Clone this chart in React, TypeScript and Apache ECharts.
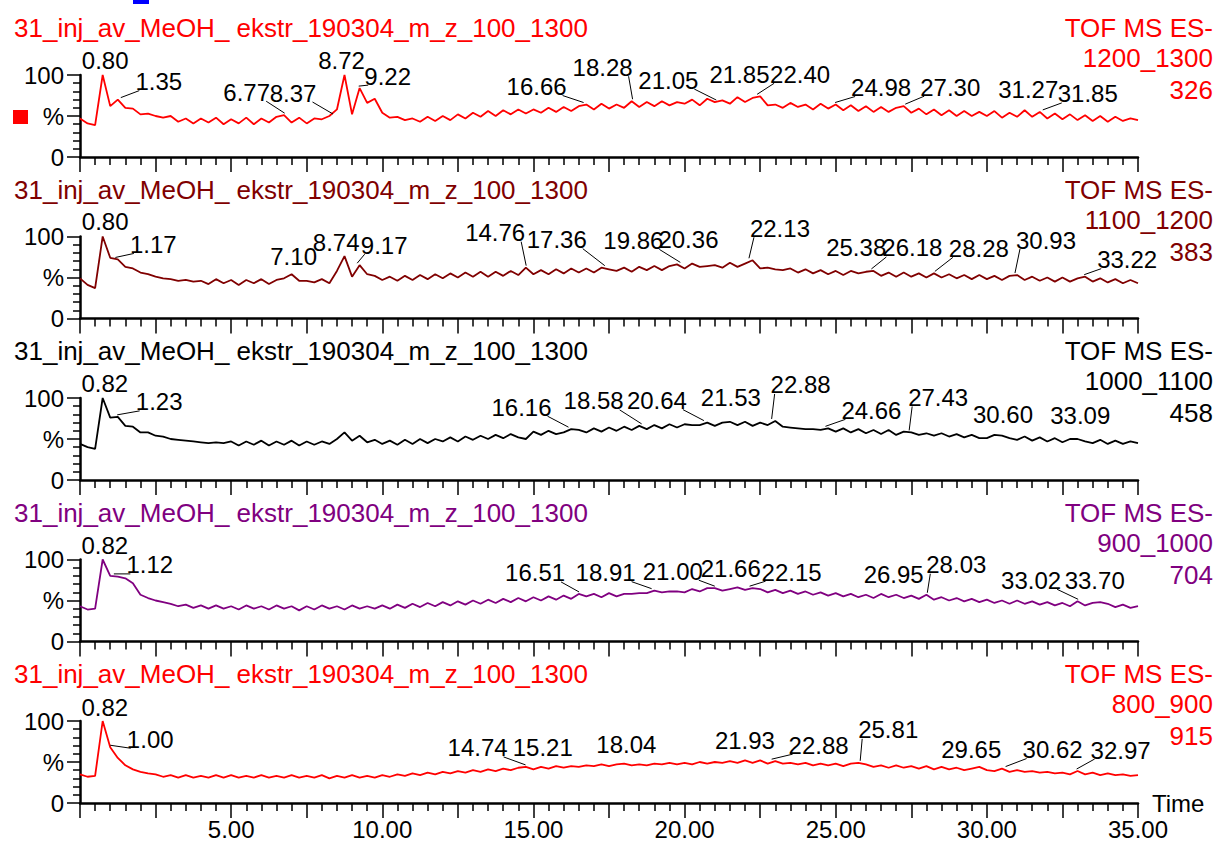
import React, { useEffect, useRef } from "react";
import * as echarts from "echarts";

const TIMES = [
  0, 0.25, 0.5, 0.75, 1, 1.25, 1.5, 1.75, 2, 2.25, 2.5, 2.75, 3, 3.25, 3.5, 3.75, 4, 4.25, 4.5, 4.75,
  5, 5.25, 5.5, 5.75, 6, 6.25, 6.5, 6.75, 7, 7.25, 7.5, 7.75, 8, 8.25, 8.5, 8.75, 9, 9.25, 9.5, 9.75,
  10, 10.25, 10.5, 10.75, 11, 11.25, 11.5, 11.75, 12, 12.25, 12.5, 12.75, 13, 13.25, 13.5, 13.75, 14, 14.25, 14.5, 14.75,
  15, 15.25, 15.5, 15.75, 16, 16.25, 16.5, 16.75, 17, 17.25, 17.5, 17.75, 18, 18.25, 18.5, 18.75, 19, 19.25, 19.5, 19.75,
  20, 20.25, 20.5, 20.75, 21, 21.25, 21.5, 21.75, 22, 22.25, 22.5, 22.75, 23, 23.25, 23.5, 23.75, 24, 24.25, 24.5, 24.75,
  25, 25.25, 25.5, 25.75, 26, 26.25, 26.5, 26.75, 27, 27.25, 27.5, 27.75, 28, 28.25, 28.5, 28.75, 29, 29.25, 29.5, 29.75,
  30, 30.25, 30.5, 30.75, 31, 31.25, 31.5, 31.75, 32, 32.25, 32.5, 32.75, 33, 33.25, 33.5, 33.75, 34, 34.25, 34.5, 34.75,
  35,
];

// m/z 1200_1300
const TRACE_1 = [
  47, 41, 39, 100, 62, 70, 60, 59, 52, 53, 50, 48, 50, 43, 47, 41, 47, 42, 48, 40,
  46, 41, 48, 40, 47, 42, 49, 51, 42, 48, 41, 47, 46, 50, 58, 100, 52, 84, 66, 71,
  54, 48, 49, 45, 47, 43, 49, 44, 50, 45, 52, 47, 54, 49, 56, 50, 57, 52, 58, 53,
  58, 54, 60, 55, 61, 56, 62, 64, 58, 65, 59, 64, 60, 68, 61, 67, 62, 68, 63, 67,
  65, 70, 63, 71, 67, 69, 65, 73, 67, 72, 74, 63, 64, 60, 66, 61, 64, 58, 65, 59,
  64, 57, 63, 56, 62, 55, 61, 55, 60, 62, 54, 59, 52, 58, 51, 57, 50, 56, 50, 55,
  50, 56, 48, 54, 49, 57, 49, 55, 47, 53, 46, 52, 45, 51, 44, 50, 43, 49, 44, 47,
  45,
];
// m/z 1100_1200
const TRACE_2 = [
  49, 41, 37, 100, 74, 72, 63, 61, 56, 54, 51, 49, 48, 46, 47, 45, 46, 42, 48, 43,
  47, 41, 47, 43, 48, 42, 47, 49, 54, 46, 46, 44, 48, 43, 58, 76, 51, 65, 54, 52,
  47, 51, 46, 52, 47, 53, 48, 54, 49, 55, 50, 56, 51, 57, 51, 57, 52, 58, 53, 62,
  54, 59, 54, 60, 55, 61, 56, 61, 56, 62, 60, 58, 62, 57, 63, 59, 64, 59, 64, 66,
  61, 67, 63, 64, 65, 62, 68, 63, 67, 71, 61, 62, 60, 59, 61, 56, 60, 55, 59, 54,
  58, 53, 58, 55, 57, 58, 52, 56, 51, 56, 51, 55, 50, 55, 50, 54, 49, 53, 48, 53,
  48, 52, 47, 52, 53, 47, 51, 46, 50, 45, 50, 45, 49, 51, 45, 49, 44, 48, 43, 47,
  43,
];
// m/z 1000_1100
const TRACE_3 = [
  44, 40, 38, 100, 76, 77, 66, 65, 58, 58, 54, 53, 50, 49, 48, 47, 46, 45, 46, 45,
  47, 42, 47, 43, 48, 42, 47, 43, 48, 42, 47, 43, 47, 44, 50, 58, 48, 54, 46, 49,
  44, 48, 43, 49, 44, 50, 45, 50, 47, 52, 47, 53, 49, 54, 50, 55, 51, 56, 52, 50,
  59, 55, 60, 56, 58, 62, 61, 58, 63, 59, 64, 60, 65, 61, 66, 62, 67, 63, 68, 64,
  68, 67, 67, 70, 66, 70, 71, 67, 71, 66, 70, 67, 72, 65, 64, 63, 62, 62, 61, 63,
  59, 63, 58, 62, 57, 61, 56, 61, 55, 59, 58, 55, 57, 54, 57, 53, 56, 52, 55, 51,
  51, 55, 54, 51, 49, 53, 48, 52, 47, 51, 46, 50, 50, 47, 45, 49, 44, 48, 44, 47,
  45,
];
// m/z 900_1000
const TRACE_4 = [
  43, 39, 40, 100, 80, 79, 77, 71, 57, 53, 50, 48, 46, 43, 45, 41, 44, 40, 44, 40,
  43, 39, 44, 40, 43, 39, 44, 40, 43, 38, 43, 39, 44, 40, 43, 39, 44, 40, 43, 40,
  44, 40, 45, 41, 46, 42, 47, 43, 48, 44, 49, 45, 50, 46, 51, 47, 52, 48, 53, 49,
  54, 50, 55, 51, 56, 52, 58, 55, 58, 54, 59, 55, 58, 58, 59, 59, 62, 60, 61, 61,
  60, 64, 61, 65, 65, 62, 64, 66, 63, 65, 64, 60, 63, 59, 62, 58, 61, 57, 60, 56,
  59, 55, 58, 54, 57, 53, 58, 54, 57, 53, 56, 52, 57, 51, 54, 50, 53, 49, 52, 48,
  51, 47, 50, 46, 50, 46, 49, 45, 48, 44, 47, 43, 49, 44, 47, 48, 46, 42, 45, 41,
  43,
];
// m/z 800_900
const TRACE_5 = [
  35, 32, 33, 100, 68, 55, 46, 41, 38, 36, 35, 32, 34, 31, 34, 31, 33, 31, 34, 31,
  34, 31, 33, 31, 34, 31, 33, 31, 34, 31, 33, 31, 34, 30, 33, 31, 34, 31, 33, 31,
  34, 32, 35, 33, 36, 34, 37, 35, 38, 36, 39, 37, 40, 38, 41, 39, 42, 40, 43, 44,
  41, 44, 42, 45, 43, 45, 44, 46, 45, 47, 45, 47, 48, 46, 47, 46, 48, 47, 49, 47,
  49, 47, 50, 48, 50, 49, 51, 49, 52, 49, 52, 48, 51, 48, 49, 47, 49, 46, 48, 46,
  48, 45, 48, 49, 47, 44, 46, 43, 46, 43, 45, 42, 45, 41, 44, 41, 43, 40, 42, 44,
  40, 39, 42, 38, 40, 38, 39, 37, 38, 36, 37, 35, 39, 35, 37, 34, 36, 34, 35, 33,
  34,
];

const PEAKS_1 = [0.8, 1.35, 6.77, 8.37, 8.72, 9.22, 16.66, 18.28, 21.05, 21.85, 22.4, 24.98, 27.3, 31.27, 31.85];
const PEAKS_2 = [0.8, 1.17, 7.1, 8.74, 9.17, 14.76, 17.36, 19.86, 20.36, 22.13, 25.38, 26.18, 28.28, 30.93, 33.22];
const PEAKS_3 = [0.82, 1.23, 16.16, 18.58, 20.64, 21.53, 22.88, 24.66, 27.43, 30.6, 33.09];
const PEAKS_4 = [0.82, 1.12, 16.51, 18.91, 21.0, 21.66, 22.15, 26.95, 28.03, 33.02, 33.7];
const PEAKS_5 = [0.82, 1.0, 14.74, 15.21, 18.04, 21.93, 22.88, 25.81, 29.65, 30.62, 32.97];

const TITLE = "31_inj_av_MeOH_ ekstr_190304_m_z_100_1300";
const MODE = "TOF MS ES-";
const RANGES = ["1200_1300", "1100_1200", "1000_1100", "900_1000", "800_900"];
const INTENSITIES = ["326", "383", "458", "704", "915"];
const Y_LABELS: Record<number, string> = { 100: "100", 50: "%", 0: "0" };

// label placement (text-centre offsets from the peak point, px)
const LAYOUT_1 = [[1, -15], [38, -18], [-38, -23], [-40, -23], [-2, -15], [29, -12], [-47, -18], [-30, -34], [-48, -22], [-1, -23], [43, -22], [46, -17], [45, -19], [3, -21], [45, -18]];
const LAYOUT_2 = [[1, -15], [38, -15], [-1, -18], [-8, -14], [27, -20], [-31, -35], [-48, -28], [-47, -24], [-7, -24], [31, -32], [9, -23], [41, -23], [44, -25], [31, -35], [43, -17]];
const LAYOUT_3 = [[0, -15], [42, -15], [-47, -22], [-48, -25], [-47, -22], [0, -24], [29, -36], [46, -18], [29, -35], [-2, -21], [0, -24]];
const LAYOUT_4 = [[0, -14], [36, -11], [-44, -21], [-46, -18], [-42, -17], [-4, -19], [42, -16], [-1, -20], [29, -30], [-47, -21], [-4, -22]];
const LAYOUT_5 = [[0, -14], [40, -8], [-48, -19], [3, -19], [1, -19], [2, -20], [47, -16], [28, -33], [-5, -17], [47, -19], [44, -21]];

const TRACES = [TRACE_1, TRACE_2, TRACE_3, TRACE_4, TRACE_5];
const PEAKS = [PEAKS_1, PEAKS_2, PEAKS_3, PEAKS_4, PEAKS_5];
const LAYOUTS = [LAYOUT_1, LAYOUT_2, LAYOUT_3, LAYOUT_4, LAYOUT_5];
const COLORS = ["#ff0000", "#800000", "#000000", "#800080", "#ff0000"];

const FONT = '"Liberation Sans", Arial, sans-serif';
const PANEL_TOP = 75;
const PANEL_STEP = 161.5;
const PANEL_H = 82;

function nearestValue(trace: number[], t: number) {
  let best = 0;
  for (let k = 1; k < TIMES.length; k++) {
    if (Math.abs(TIMES[k] - t) < Math.abs(TIMES[best] - t)) best = k;
  }
  return trace[best];
}

function buildOption() {
  const grid: any[] = [];
  const xAxis: any[] = [];
  const yAxis: any[] = [];
  const series: any[] = [];
  const graphic: any[] = [];

  for (let i = 0; i < 5; i++) {
    const top = PANEL_TOP + PANEL_STEP * i;
    const last = i === 4;
    grid.push({ left: 80, top, width: 1058, height: PANEL_H });
    xAxis.push({
      type: "value",
      gridIndex: i,
      min: 0,
      max: 35,
      interval: 2.5,
      axisLine: { show: true, onZero: false, lineStyle: { color: "#000", width: 2.5 } },
      axisTick: { show: true, length: 15, lineStyle: { color: "#000", width: 1.5 } },
      minorTick: { show: true, splitNumber: 5, length: 8, lineStyle: { color: "#000", width: 1.5 } },
      splitLine: { show: false },
      minorSplitLine: { show: false },
      axisLabel: {
        show: last,
        margin: 14,
        color: "#000",
        fontSize: 24,
        fontFamily: FONT,
        formatter: (v: number) => (v > 0 && Math.abs(v % 5) < 1e-9 ? v.toFixed(2) : ""),
      },
      name: last ? "Time" : "",
      nameLocation: "end",
      nameGap: 14,
      nameTextStyle: { color: "#000", fontSize: 24, fontFamily: FONT, verticalAlign: "middle" },
    });
    yAxis.push({
      type: "value",
      gridIndex: i,
      min: 0,
      max: 100,
      interval: 50,
      axisLine: { show: true, lineStyle: { color: "#000", width: 2.5 } },
      axisTick: { show: true, length: 13, lineStyle: { color: "#000", width: 1.5 } },
      minorTick: { show: true, splitNumber: 5, length: 7, lineStyle: { color: "#000", width: 1.5 } },
      splitLine: { show: false },
      minorSplitLine: { show: false },
      axisLabel: {
        margin: 16,
        color: "#000",
        fontSize: 24,
        fontFamily: FONT,
        formatter: (v: number) => Y_LABELS[v] ?? "",
      },
    });

    const trace = TRACES[i];
    series.push({
      type: "line",
      xAxisIndex: i,
      yAxisIndex: i,
      data: TIMES.map((t, k) => [t, trace[k]]),
      showSymbol: false,
      symbol: "none",
      lineStyle: { color: COLORS[i], width: 1.8 },
      silent: true,
      z: 2,
    });

    const times = PEAKS[i];
    const lay = LAYOUTS[i];
    series.push({
      type: "custom",
      xAxisIndex: i,
      yAxisIndex: i,
      clip: false,
      silent: true,
      z: 5,
      data: times.map((t) => [t, nearestValue(trace, t)]),
      renderItem: (params: any, api: any) => {
        const idx = params.dataIndex;
        const p = api.coord([api.value(0), api.value(1)]);
        const [dx, dy] = lay[idx];
        const label = times[idx].toFixed(2);
        const w = label.length >= 5 ? 60 : 47;
        const cx = p[0] + dx;
        const cy = p[1] + dy;
        const children: any[] = [
          {
            type: "text",
            x: cx,
            y: cy,
            style: {
              text: label,
              fill: "#000",
              fontSize: 24,
              fontFamily: FONT,
              font: `24px ${FONT}`,
              align: "center",
              verticalAlign: "middle",
              textAlign: "center",
              textVerticalAlign: "middle",
            },
          },
        ];
        let ex: number | null = null;
        let ey = cy + 9;
        if (dx >= 20) ex = cx - w / 2 + 4;
        else if (dx <= -20) ex = cx + w / 2 - 4;
        else if (dy <= -28) {
          ex = cx;
          ey = cy + 10;
        }
        if (ex !== null) {
          children.push({
            type: "line",
            shape: { x1: p[0], y1: p[1] - 2, x2: ex, y2: ey },
            style: { stroke: "#000", lineWidth: 1 },
          });
        }
        return { type: "group", children };
      },
    });

    const baseY = 28 + PANEL_STEP * i;
    graphic.push({
      type: "text",
      x: 14,
      y: baseY,
      style: {
        text: TITLE,
        fill: COLORS[i],
        font: `26px ${FONT}`,
        fontSize: 26,
        fontFamily: FONT,
        align: "left",
        verticalAlign: "middle",
        textAlign: "left",
        textVerticalAlign: "middle",
      },
    });
    const rightLines = [MODE, RANGES[i], INTENSITIES[i]];
    const offs = [0, 30, 62];
    rightLines.forEach((txt, j) => {
      graphic.push({
        type: "text",
        x: 1213,
        y: baseY + offs[j],
        style: {
          text: txt,
          fill: COLORS[i],
          font: `26px ${FONT}`,
          fontSize: 26,
          fontFamily: FONT,
          align: "right",
          verticalAlign: "middle",
          textAlign: "right",
          textVerticalAlign: "middle",
        },
      });
    });
  }

  graphic.push({ type: "rect", shape: { x: 13, y: 110, width: 15, height: 14 }, style: { fill: "#ff0000" } });
  graphic.push({ type: "rect", shape: { x: 133, y: 0, width: 16, height: 4 }, style: { fill: "#0000ff" } });

  return {
    animation: false,
    backgroundColor: "#ffffff",
    grid,
    xAxis,
    yAxis,
    series,
    graphic,
  };
}

export default function App() {
  const ref = useRef<HTMLDivElement>(null);
  useEffect(() => {
    if (!ref.current) return;
    const chart = echarts.init(ref.current, undefined, { renderer: "svg" });
    chart.setOption(buildOption() as any);
    return () => chart.dispose();
  }, []);
  return (
    <div
      ref={ref}
      style={{ position: "fixed", left: 0, top: 0, width: 1215, height: 845, background: "#fff" }}
    />
  );
}
